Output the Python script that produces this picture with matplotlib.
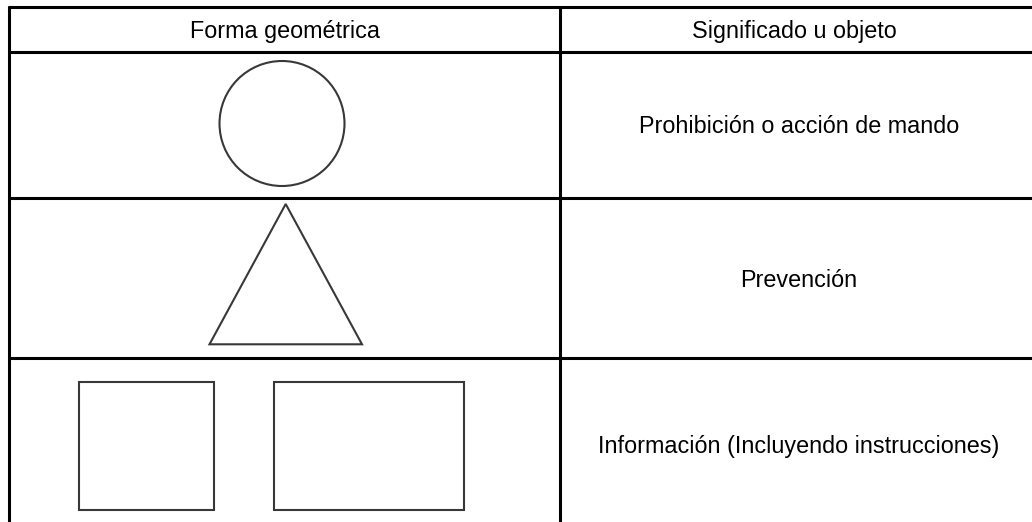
import matplotlib
matplotlib.use("Agg")
from matplotlib import pyplot as plt
from matplotlib.patches import Circle, Polygon, Rectangle

plt.rcParams['font.family'] = ['Liberation Sans', 'DejaVu Sans']

encabezados = ["Forma geométrica", "Significado u objeto"]
significados = [
    "Prohibición o acción de mando",
    "Prevención",
    "Información (Incluyendo instrucciones)",
]

# Tabla (coordenadas en pixeles de la imagen)
x_izq, x_div, x_der = 8.5, 559.5, 1040
y_lineas = [6.7, 51.7, 197.7, 358.0]
y_fin = 530
y_base_texto = [38.3, 133.0, 286.7, 453.3]

fig = plt.figure(figsize=(10.32, 5.22), dpi=100)
ax = fig.add_axes([0, 0, 1, 1])
ax.set_xlim(0, 1032)
ax.set_ylim(522, 0)
ax.axis('off')

borde = dict(color='black', lw=2.2, solid_capstyle='butt')
for y in y_lineas:
    ax.plot([x_izq - 1, x_der], [y, y], **borde)
ax.plot([x_izq, x_izq], [y_lineas[0] - 1, y_fin], **borde)
ax.plot([x_div, x_div], [y_lineas[0], y_fin], **borde)

# Textos
fs = 16.8
ax.text(284.5, y_base_texto[0], encabezados[0], ha='center', va='baseline', fontsize=fs)
ax.text(794, y_base_texto[0], encabezados[1], ha='center', va='baseline', fontsize=fs)
for y, txt in zip(y_base_texto[1:], significados):
    ax.text(799, y, txt, ha='center', va='baseline', fontsize=fs)

# Formas
forma = dict(fill=False, edgecolor='#383838', lw=1.5)
ax.add_patch(Circle((282, 123.5), 62.5, **forma))
ax.add_patch(Polygon([(285.7, 204), (209.5, 344.3), (362, 344.3)], closed=True, **forma))
ax.add_patch(Rectangle((79, 382), 135, 128.3, **forma))
ax.add_patch(Rectangle((273.5, 382), 190.8, 128.3, **forma))

plt.savefig("out.png", dpi=100)
